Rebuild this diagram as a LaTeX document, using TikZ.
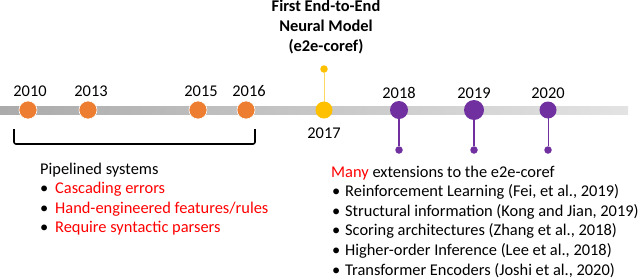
\documentclass[tikz,border=0pt]{standalone}
\usepackage{fontspec}
\setmainfont{Carlito}
\usetikzlibrary{positioning}
\definecolor{earlyFill}{HTML}{ED7D31}
\definecolor{e2eFill}{HTML}{FFC000}
\definecolor{e2eStem}{HTML}{FFD966}
\definecolor{extFill}{HTML}{7030A0}
\definecolor{extStem}{HTML}{9966C2}
\definecolor{warnText}{HTML}{FF0000}

\begin{document}
\begin{tikzpicture}[x=1pt,y=-1pt,
  txt/.style={font=\fontsize{16.4}{19.6}\selectfont,inner sep=0pt},
  yr/.style={txt,anchor=base},
  itm/.style={txt,anchor=base west},
  yrdot/.style={circle,inner sep=0pt,minimum size=18pt},
  early/.style={yrdot,fill=earlyFill,draw=white,line width=0.6pt},
  e2e/.style={yrdot,minimum size=17pt,fill=e2eFill},
  ext/.style={yrdot,fill=extFill},
  tip/.style={circle,inner sep=0pt,minimum size=7.5pt},
]
\useasboundingbox (0,0) rectangle (640,279);

% ---- timeline bar ---------------------------------------------------------
\shade[left color=black!33,middle color=black!18,right color=black!11]
  (0,106) rectangle (628,114);

% ---- pre-neural years -----------------------------------------------------
\foreach \n/\X/\lx in {2010/28/30, 2013/88/91, 2015/198/201, 2016/246/249}{
  \node[early] (y\n) at (\X,110) {};
  \node[yr] (l\n) at (\lx,96) {\n};
}

% ---- e2e-coref -----------------------------------------------------------
\node[tip,fill=e2eFill] (t2017) at (324,69) {};
\draw[e2eStem,line width=1pt] (t2017) -- (324,110);
\node[e2e] (y2017) at (324,110) {};
\node[yr] (l2017) at (324,138) {2017};
\node[txt,font=\fontsize{16.4}{19.6}\selectfont\bfseries,align=center,anchor=base]
  (title) at (326,51) {First End-to-End\\Neural Model\\(e2e-coref)};

% ---- extensions ----------------------------------------------------------
\foreach \n/\X/\w/\s in {2018/399/1.3/18, 2019/474/2.4/20, 2020/548/1/17}{
  \node[tip,fill=extFill] (t\n) at (\X,150) {};
  \draw[extFill,line width=\w pt] (\X,110) -- (t\n);
  \node[ext,minimum size=\s pt] (y\n) at (\X,110) {};
  \node[yr] (l\n) at (\X,98) {\n};
}

% ---- bracket under the pipelined years -----------------------------------
\coordinate (brL) at (14,129);
\coordinate (brR) at (255,129);
\draw[line width=1.6pt,rounded corners=2pt] (brL) -- ++(0,15) -| (brR);

% ---- text blocks ---------------------------------------------------------
\node[itm] (pipe) at (40,174) {Pipelined systems};
\foreach \t [count=\i] in {Cascading errors, Hand-engineered features/rules,
                           Require syntactic parsers}
  \node[itm] (pl\i) at (40,174+19.6*\i)
    {\makebox[15pt][l]{\textbullet}\textcolor{warnText}{\t}};

\node[itm] (many) at (331,177) {\textcolor{warnText}{Many} extensions to the e2e-coref};
\foreach \t [count=\i] in {{Reinforcement Learning (Fei, et al., 2019)},
                           {Structural information (Kong and Jian, 2019)},
                           {Scoring architectures (Zhang et al., 2018)},
                           {Higher-order Inference (Lee et al., 2018)},
                           {Transformer Encoders (Joshi et al., 2020)}}
  \node[itm] (ex\i) at (332,177+19.6*\i) {\makebox[13pt][l]{\textbullet}\t};

\end{tikzpicture}
\end{document}
